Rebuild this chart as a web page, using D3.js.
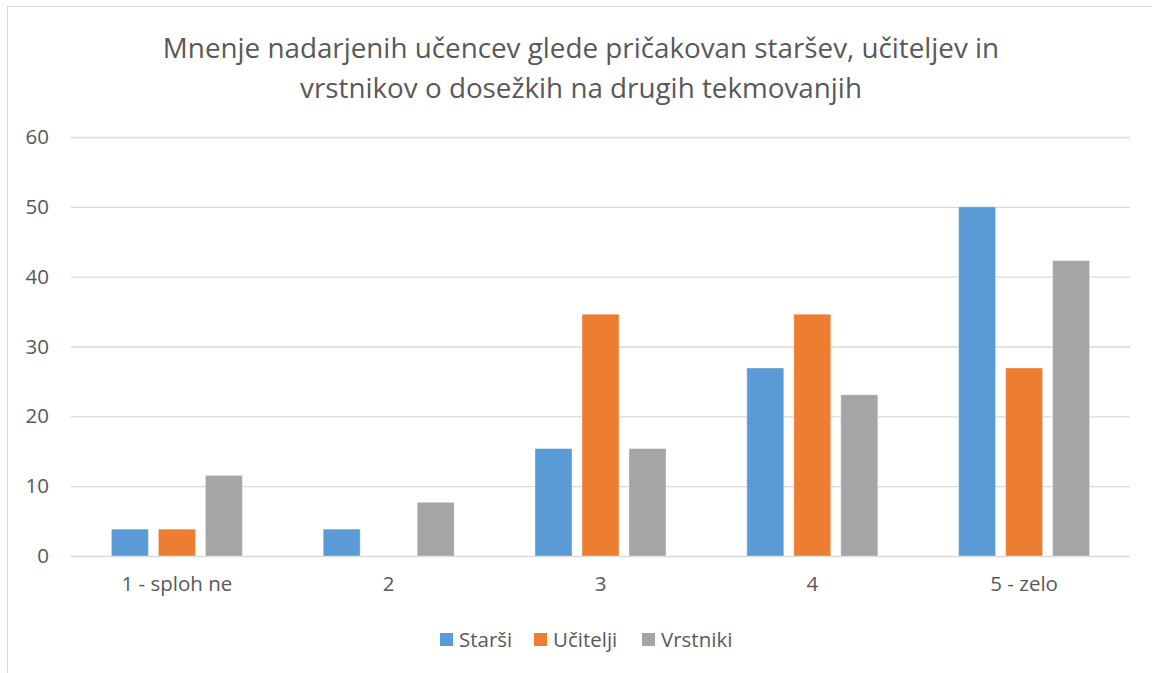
<!DOCTYPE html>
<html>
<head>
<meta charset="utf-8">
<script src="https://cdn.jsdelivr.net/npm/d3@7"></script>
<style>
  body { margin: 0; background: #fff; }
  svg text { font-family: "Open Sans", "Noto Sans", sans-serif; fill: #595959; }
</style>
</head>
<body>
<div id="chart"></div>
<script>
// data
const categories = ['1 - sploh ne', '2', '3', '4', '5 - zelo'];
const seriesNames = ['Starši', 'Učitelji', 'Vrstniki'];
const starsi = [3.85, 3.85, 15.38, 26.92, 50];
const ucitelji = [3.85, 0, 34.62, 34.62, 26.92];
const vrstniki = [11.54, 7.69, 15.38, 23.08, 42.31];
const yTicks = [0, 10, 20, 30, 40, 50, 60];
const titleLines = ['Mnenje nadarjenih učencev glede pričakovan staršev, učiteljev in',
  'vrstnikov o dosežkih na drugih tekmovanjih'];

const colors = ['#5B9BD5', '#ED7D31', '#A5A5A5'];
const values = [starsi, ucitelji, vrstniki];

const width = 1152, height = 673;
const margin = { top: 137, right: 22, bottom: 117, left: 71 };
const innerW = width - margin.left - margin.right;
const innerH = height - margin.top - margin.bottom;
const labelSize = 20.5;

const svg = d3.select('#chart').append('svg')
  .attr('width', width)
  .attr('height', height);

// chart border
svg.append('rect')
  .attr('x', 7.5).attr('y', 6.5)
  .attr('width', width + 10).attr('height', height + 10)
  .attr('fill', 'none')
  .attr('stroke', '#d9d9d9');

// title
svg.append('text')
  .attr('text-anchor', 'middle')
  .attr('font-size', 27.8)
  .selectAll('tspan')
  .data(titleLines)
  .join('tspan')
  .attr('x', 581)
  .attr('y', (d, i) => 58 + i * 40)
  .text(d => d);

const g = svg.append('g')
  .attr('transform', `translate(${margin.left},${margin.top})`);

const y = d3.scaleLinear().domain([0, 60]).range([innerH, 0]);
const x0 = d3.scaleBand().domain(categories).range([0, innerW]).padding(0);
const groupW = 131;
const x1 = d3.scaleBand().domain(seriesNames)
  .range([(x0.bandwidth() - groupW) / 2, (x0.bandwidth() + groupW) / 2])
  .paddingInner(0.213).paddingOuter(0);

// gridlines + y labels
const yAxis = d3.axisLeft(y).tickValues(yTicks).tickSize(-innerW).tickPadding(22);
const yAxisEl = g.append('g').call(yAxis);
yAxisEl.select('.domain').remove();
yAxisEl.selectAll('line').attr('stroke', '#d9d9d9').attr('stroke-width', 1.3);
yAxisEl.selectAll('text').attr('font-size', labelSize).attr('fill', '#595959')
  .attr('font-family', '"Open Sans", sans-serif');

// bars
const rows = categories.map((c, i) => ({ cat: c, vals: seriesNames.map((s, j) => ({ s, j, v: values[j][i] })) }));
g.selectAll('.group')
  .data(rows)
  .join('g')
  .attr('class', 'group')
  .attr('transform', d => `translate(${x0(d.cat)},0)`)
  .selectAll('rect')
  .data(d => d.vals.filter(v => v.v > 0))
  .join('rect')
  .attr('x', d => x1(d.s))
  .attr('y', d => y(d.v))
  .attr('width', x1.bandwidth())
  .attr('height', d => y(0) - y(d.v))
  .attr('fill', d => colors[d.j])
  .attr('stroke', '#fff')
  .attr('stroke-opacity', 0.35)
  .attr('stroke-width', 1);

// x axis labels
const xAxis = d3.axisBottom(x0).tickSize(0).tickPadding(20);
const xAxisEl = g.append('g').attr('transform', `translate(0,${innerH})`).call(xAxis);
xAxisEl.select('.domain').remove();
xAxisEl.selectAll('text').attr('font-size', labelSize).attr('fill', '#595959')
  .attr('font-family', '"Open Sans", sans-serif');

// legend
const legendX = [440, 534, 642];
const legend = svg.append('g')
  .selectAll('g')
  .data(seriesNames)
  .join('g')
  .attr('transform', (d, i) => `translate(${legendX[i]},633)`);
legend.append('rect')
  .attr('width', 13).attr('height', 13)
  .attr('fill', (d, i) => colors[i]);
legend.append('text')
  .attr('x', 19).attr('y', 14)
  .attr('font-size', labelSize)
  .text(d => d);
</script>
</body>
</html>
